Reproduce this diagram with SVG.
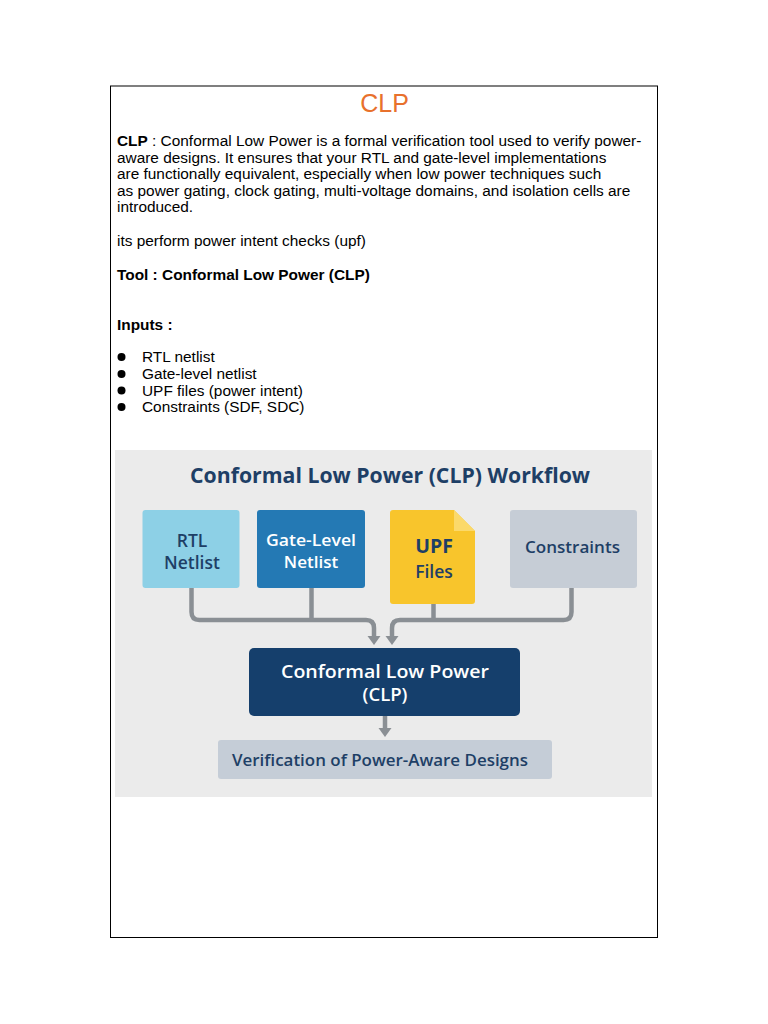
<svg xmlns="http://www.w3.org/2000/svg" width="768" height="1024" viewBox="0 0 768 1024">
<defs>
<style>
.body{font-family:"Liberation Sans",Arial,sans-serif;font-size:15.4px;fill:#000}
.b{font-weight:bold}
.dg{font-family:"Open Sans","Noto Sans",sans-serif;text-anchor:middle;font-weight:600}
.navy{fill:#1E3F66}
.wt{fill:#FFFFFF}
.conn{fill:none;stroke:#8A8F94;stroke-width:4.5;stroke-linejoin:round}
.head{fill:#8A8F94}
</style>
</defs>
<rect width="768" height="1024" fill="#FFFFFF"/>
<rect x="110.5" y="86" width="547" height="851.5" fill="#FFFFFF" stroke="#000" stroke-width="1"/>
<text x="384.5" y="112" font-family="Liberation Sans, Arial, sans-serif" font-size="25" fill="#E8712C" text-anchor="middle">CLP</text>
<g class="body">
<text x="117" y="146"><tspan class="b">CLP</tspan> : Conformal Low Power is a formal verification tool used to verify power-</text>
<text x="117" y="162.5">aware designs. It ensures that your RTL and gate-level implementations</text>
<text x="117" y="179">are functionally equivalent, especially when low power techniques such</text>
<text x="117" y="195.5">as power gating, clock gating, multi-voltage domains, and isolation cells are</text>
<text x="117" y="212">introduced.</text>
<text x="117" y="246">its perform power intent checks (upf)</text>
<text x="117" y="280" class="b">Tool : Conformal Low Power (CLP)</text>
<text x="117" y="330" class="b">Inputs :</text>
<text x="142" y="362">RTL netlist</text>
<text x="142" y="379">Gate-level netlist</text>
<text x="142" y="395.5">UPF files (power intent)</text>
<text x="142" y="412">Constraints (SDF, SDC)</text>
</g>
<g fill="#000">
<circle cx="121.5" cy="357" r="4"/>
<circle cx="121.5" cy="374" r="4"/>
<circle cx="121.5" cy="390.5" r="4"/>
<circle cx="121.5" cy="407" r="4"/>
</g>
<rect x="115" y="450" width="537" height="347" fill="#EBEBEB"/>
<text class="dg navy" x="390" y="483" font-size="21" style="font-weight:700" textLength="400" lengthAdjust="spacingAndGlyphs">Conformal Low Power (CLP) Workflow</text>
<g id="connectors">
<path class="conn" d="M191.5,588 V612 Q191.5,620 199.5,620 H366 Q374,620 374,628 V637"/>
<path class="conn" d="M311.5,588 V620"/>
<path class="conn" d="M571.5,588 V612 Q571.5,620 563.5,620 H400 Q392,620 392,628 V637"/>
<path class="conn" d="M433.5,604 V620"/>
<path class="conn" d="M385,716 V729"/>
<polygon class="head" points="367.5,636 380.5,636 374,645"/>
<polygon class="head" points="385.5,636 398.5,636 392,645"/>
<polygon class="head" points="378.5,728 391.5,728 385,737"/>
</g>
<g id="rtl">
<rect x="142.5" y="510" width="97" height="78" rx="3" fill="#8DD0E6"/>
<text class="dg navy" x="192" y="546.5" font-size="17.5">RTL</text>
<text class="dg navy" x="192" y="568.5" font-size="17.5">Netlist</text>
</g>
<g id="gate">
<rect x="257" y="510" width="108" height="78" rx="3" fill="#2479B4"/>
<text class="dg wt" x="311" y="546" font-size="17" textLength="90" lengthAdjust="spacingAndGlyphs">Gate-Level</text>
<text class="dg wt" x="311" y="567.5" font-size="17">Netlist</text>
</g>
<g id="upf">
<path d="M393,510 H454 L475,531 V601 Q475,604 472,604 H393 Q390,604 390,601 V513 Q390,510 393,510 Z" fill="#F8C52C"/>
<path d="M454,510 L475,531 H454 Z" fill="#FBD96A"/>
<text class="dg navy" x="434" y="553" font-size="19.5" style="font-weight:700">UPF</text>
<text class="dg navy" x="434" y="578" font-size="17.5">Files</text>
</g>
<g id="constraints">
<rect x="510" y="510" width="127" height="78" rx="3" fill="#C6CDD6"/>
<text class="dg navy" x="572.5" y="553" font-size="17" textLength="95" lengthAdjust="spacingAndGlyphs">Constraints</text>
</g>
<g id="clp">
<rect x="249" y="648" width="271" height="68" rx="5" fill="#153F6C"/>
<text class="dg wt" x="385" y="678" font-size="18.5" textLength="208" lengthAdjust="spacingAndGlyphs">Conformal Low Power</text>
<text class="dg wt" x="385" y="701" font-size="18.5">(CLP)</text>
</g>
<g id="verification">
<rect x="218" y="740" width="334" height="39" rx="3" fill="#C5CDD7"/>
<text class="dg navy" x="380" y="766" font-size="17" textLength="296" lengthAdjust="spacingAndGlyphs">Verification of Power-Aware Designs</text>
</g>
</svg>
